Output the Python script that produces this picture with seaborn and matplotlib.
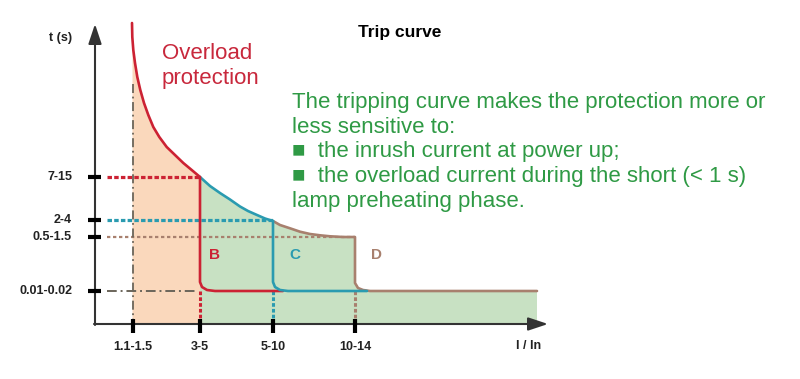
import numpy as np
import matplotlib
matplotlib.use("Agg")
import matplotlib.pyplot as plt
import seaborn as sns

sns.set_theme(style="white")
plt.rcParams["font.family"] = ["Liberation Sans", "DejaVu Sans"]

# ── data (schematic units measured from the axis origin) ─────────────────────
x_ticks  = [38, 105, 178, 260]
x_labels = ["1.1-1.5", "3-5", "5-10", "10-14"]
y_ticks  = [147, 104, 87, 33]
y_labels = ["7-15", "2-4", "0.5-1.5", "0.01-0.02"]

# envelope of the trip curves
overload_x = [37, 37.3, 38.3, 40, 42.3, 45.3, 49, 53.3, 58.3, 64.3, 71.7,
              80, 88.3, 96.7, 105]
overload_y = [301, 287, 274, 261, 247, 234, 221, 209, 197, 187, 177,
              169, 161, 154, 147]
teal_top_x = [105, 115, 125, 135, 145, 153, 162, 170, 178]
teal_top_y = [147, 138, 131, 124.5, 117.5, 113, 109, 105.5, 103]
curve_d_x  = [178, 185, 195, 205, 215, 225, 235, 248, 260, 260, 263, 268, 275, 442]
curve_d_y  = [103, 99, 95.7, 92.3, 90, 88.7, 87.7, 87, 87, 41, 36, 34, 33, 33]

# magnetic parts of curves B and C
curve_b_x = [105, 105, 107, 112, 120, 188]
curve_b_y = [147, 42, 37, 34, 33, 33]
curve_c_x = [178, 178, 180, 185, 193, 272]
curve_c_y = [103, 42, 37, 34, 33, 33]

red   = "#cc2233"
teal  = "#2a9bb0"
brown = "#a8806e"
dd    = "#6b655a"
green_txt = "#2f9a45"

# ── figure ───────────────────────────────────────────────────────────────────
fig = plt.figure(figsize=(8, 3.79), dpi=100)
ax = fig.add_axes([0, 0, 1, 1])
ax.set_xlim(-95, 705)
ax.set_ylim(-55, 324)
ax.axis("off")

# fills
ax.fill_between(overload_x, overload_y, 0, color="#fad8bc", lw=0, zorder=1)
ax.fill(np.r_[teal_top_x, curve_d_x, [442, 105]],
        np.r_[teal_top_y, curve_d_y, [0, 0]],
        color="#c8e1c3", lw=0, zorder=1)

# level guide lines
ax.plot([12, 105], [y_ticks[0]] * 2, color=red, lw=2.3,
        linestyle=(0, (1.4, 0.7)), zorder=2)
ax.plot([12, 178], [y_ticks[1]] * 2, color=teal, lw=2.3,
        linestyle=(0, (1.4, 0.7)), zorder=2)
ax.plot([12, 260], [y_ticks[2]] * 2, color=brown, lw=1.6,
        linestyle=(0, (1.5, 1.2)), zorder=2)
ax.plot([12, 100], [y_ticks[3]] * 2, color=dd, lw=1.4,
        linestyle=(0, (5, 2, 1, 2)), zorder=2)
ax.plot([x_ticks[0]] * 2, [240, 0], color=dd, lw=1.3,
        linestyle=(0, (5, 2, 1, 2)), zorder=2)
for xv, c in zip(x_ticks[1:], [red, teal, brown]):
    ax.plot([xv, xv], [33, 0], color=c, lw=2.2,
            linestyle=(0, (1.2, 0.7)), zorder=2)

# curves
line_kw = dict(sort=False, estimator=None, lw=1.9, ax=ax,
               solid_joinstyle="round", solid_capstyle="round")
sns.lineplot(x=overload_x, y=overload_y, color=red, zorder=4, **line_kw)
sns.lineplot(x=teal_top_x, y=teal_top_y, color=teal, zorder=4, **line_kw)
sns.lineplot(x=curve_d_x, y=curve_d_y, color=brown, zorder=3, **line_kw)
sns.lineplot(x=curve_b_x, y=curve_b_y, color=red, zorder=4, **line_kw)
sns.lineplot(x=curve_c_x, y=curve_c_y, color=teal, zorder=4, **line_kw)

# axes with arrows
arrow = dict(arrowstyle="-|>,head_length=1.2,head_width=0.4",
             color="#333333", lw=1.5, mutation_scale=10, shrinkA=0, shrinkB=0)
ax.annotate("", xy=(0, 300), xytext=(0, -1), arrowprops=arrow, zorder=5)
ax.annotate("", xy=(453, 0), xytext=(-1, 0), arrowprops=arrow, zorder=5)

# ticks and labels
for yv, lab in zip(y_ticks, y_labels):
    ax.plot([-7, 6], [yv, yv], color="black", lw=3, solid_capstyle="butt", zorder=6)
    ax.text(-23, yv, lab, ha="right", va="center", fontsize=9,
            fontweight="bold", color="#222222")
for xv, lab in zip(x_ticks, x_labels):
    ax.plot([xv, xv], [5, -9], color="black", lw=3, solid_capstyle="butt", zorder=6)
    ax.text(xv, -23, lab, ha="center", va="center", fontsize=9,
            fontweight="bold", color="#222222")
ax.text(-23, 286, "t (s)", ha="right", va="center", fontsize=9,
        fontweight="bold", color="#222222")
ax.text(434, -22, "I / In", ha="center", va="center", fontsize=9,
        fontweight="bold", color="#222222")

ax.text(305, 292, "Trip curve", ha="center", va="center", fontsize=12.5,
        fontweight="bold", color="black")
ax.text(67, 258, "Overload\nprotection", ha="left", va="center", fontsize=16,
        color="#c8283c", linespacing=1.2)
ax.text(120, 69, "B", ha="center", va="center", fontsize=11,
        fontweight="bold", color=red)
ax.text(200, 69, "C", ha="center", va="center", fontsize=11,
        fontweight="bold", color=teal)
ax.text(281, 69, "D", ha="center", va="center", fontsize=11,
        fontweight="bold", color=brown)

ax.text(197, 172,
        "The tripping curve makes the protection more or\n"
        "less sensitive to:\n"
        "\u25A0  the inrush current at power up;\n"
        "\u25A0  the overload current during the short (< 1 s)\n"
        "lamp preheating phase.",
        ha="left", va="center", fontsize=16, color=green_txt, linespacing=1.22)

plt.savefig("out.png", dpi=100)
